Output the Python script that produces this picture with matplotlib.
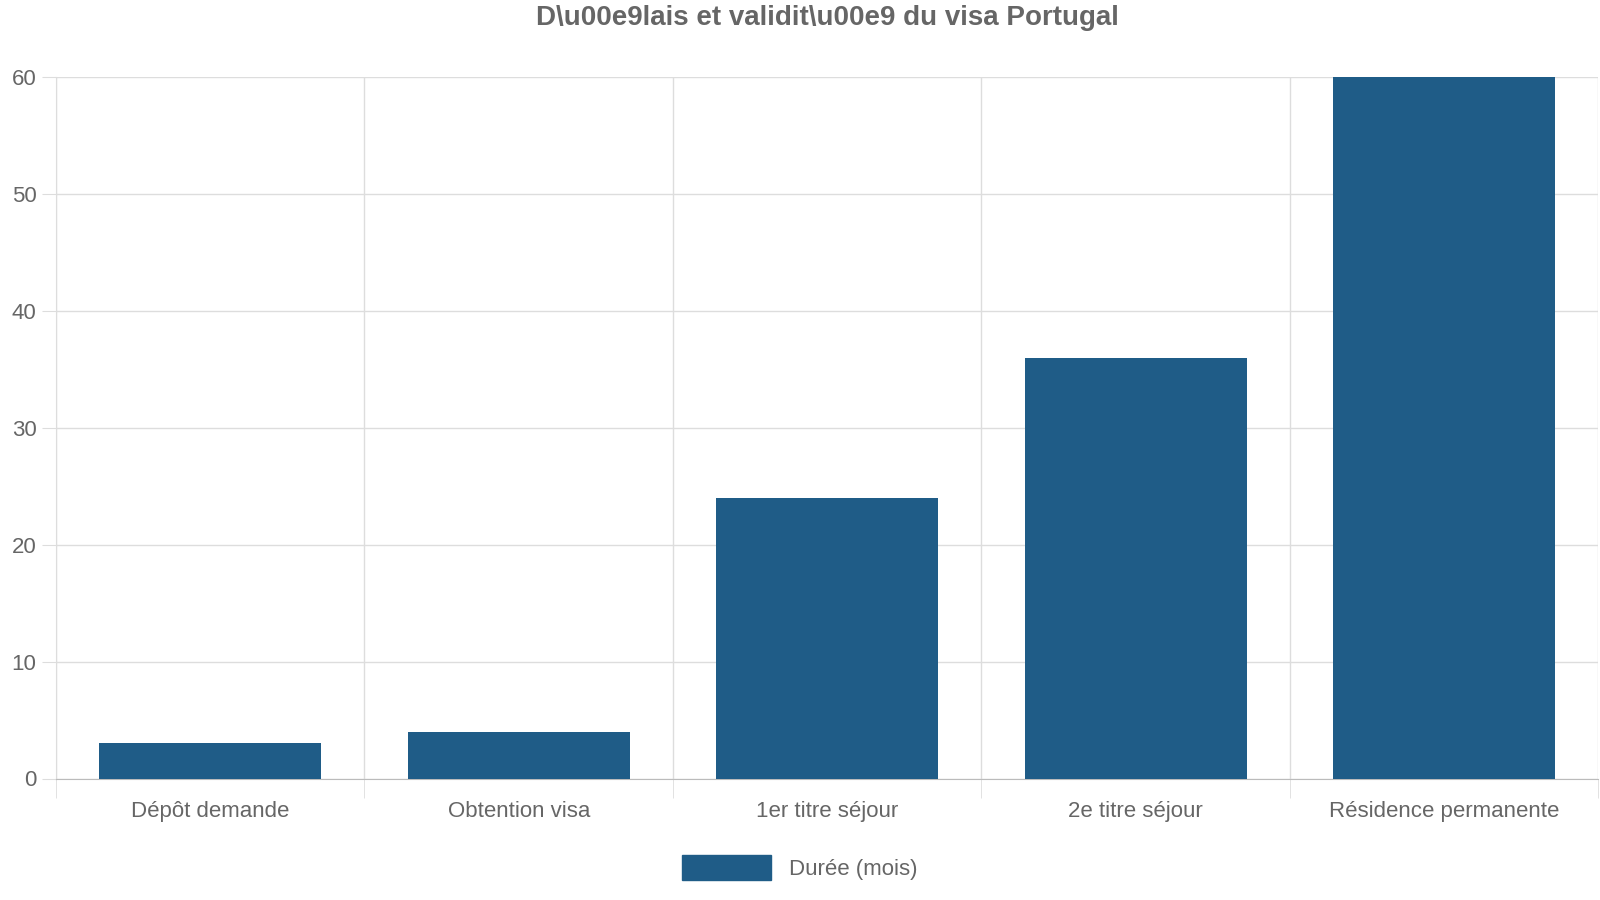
import matplotlib
matplotlib.use("Agg")
import matplotlib.pyplot as plt
import numpy as np

categories = ["Dépôt demande", "Obtention visa", "1er titre séjour", "2e titre séjour", "Résidence permanente"]
values = [3, 4, 24, 36, 60]
series_name = "Durée (mois)"
title = "D\\u00e9lais et validit\\u00e9 du visa Portugal"

plt.rcParams['font.family'] = ['Liberation Sans', 'DejaVu Sans']
fig = plt.figure(figsize=(16, 9), dpi=100)
ax = fig.add_axes([0.035, 0.135, 0.964, 0.779])
x = np.arange(len(categories))
ax.bar(x, values, width=0.72, color="#1f5c87", label=series_name, zorder=3)
ax.set_xlim(-0.5, len(categories) - 0.5)
ax.set_ylim(0, 60)
ax.set_yticks(range(0, 61, 10))
ax.set_xticks(x)
ax.set_xticklabels(categories)
ax.set_xticks(np.arange(-0.5, len(categories)), minor=True)
ax.tick_params(axis='x', which='major', length=0, pad=16, labelsize=16, labelcolor="#666666")
ax.tick_params(axis='x', which='minor', length=14, color="#dddddd")
ax.tick_params(axis='y', length=10, color="#dddddd", labelsize=16, labelcolor="#666666", pad=4)
ax.grid(axis='y', color="#dddddd", lw=1, zorder=0)
ax.grid(axis='x', which='minor', color="#dddddd", lw=1, zorder=0)
for s in ['top', 'right']:
    ax.spines[s].set_visible(False)
ax.spines['left'].set_color("#dddddd")
ax.spines['bottom'].set_color("#bbbbbb")
ax.set_title(title, fontsize=20, fontweight='bold', color="#666666", pad=38)
fig.legend(handles=[plt.Rectangle((0, 0), 1, 1, color="#1f5c87")], labels=[series_name],
           loc='center', bbox_to_anchor=(0.5, 0.036), frameon=False, fontsize=16,
           labelcolor="#666666", handlelength=4, handleheight=1.3)
fig.savefig("out.png")
